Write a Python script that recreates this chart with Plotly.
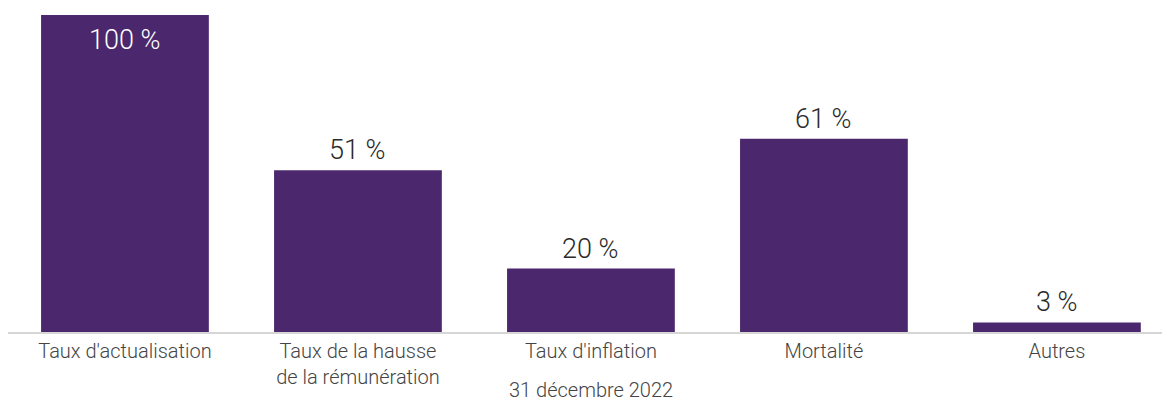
import plotly.graph_objects as go

categories = ["Taux d'actualisation", "Taux de la hausse<br>de la rémunération",
              "Taux d'inflation", "Mortalité", "Autres"]
values = [100, 51, 20, 61, 3]
labels = ["100 %", "51 %", "20 %", "61 %", "3 %"]
x_title = "31 décembre 2022"

purple = "#4B286D"
font_fam = "Roboto, 'Helvetica Neue', Arial, sans-serif"

fig = go.Figure()
fig.add_trace(go.Bar(
    x=categories, y=values, marker=dict(color=purple, line=dict(width=0)),
    width=0.72, hoverinfo="skip",
))

vmax = max(values)
for c, v, t in zip(categories, values, labels):
    inside = v == vmax
    fig.add_annotation(
        x=c, y=v, text=t, showarrow=False,
        yanchor="middle", yshift=-25 if inside else 20,
        font=dict(family=font_fam, size=27, weight=300,
                  color="#FFFFFF" if inside else "#2A2A2A"),
    )

# axis title (placed as annotation under the middle category)
fig.add_annotation(
    x=categories[len(categories) // 2], xref="x", y=0, yref="paper",
    text=x_title, showarrow=False, yanchor="bottom", yshift=-70,
    borderpad=0, borderwidth=0,
    font=dict(family=font_fam, size=20, weight=300, color="#444444"),
)

fig.update_layout(
    width=1162, height=402,
    margin=dict(l=8, r=0, t=15, b=70, autoexpand=False),
    paper_bgcolor="white", plot_bgcolor="white",
    showlegend=False,
    font=dict(family=font_fam, color="#444444"),
    xaxis=dict(
        range=[-0.502, 4.451], showgrid=False, zeroline=False, automargin=False,
        showline=True, linecolor="#D6D6D6", linewidth=2,
        ticks="", tickfont=dict(size=20, weight=300, color="#444444"),
    ),
    yaxis=dict(range=[0, 100], visible=False, showgrid=False, zeroline=False),
)

fig.write_html("out.html")
